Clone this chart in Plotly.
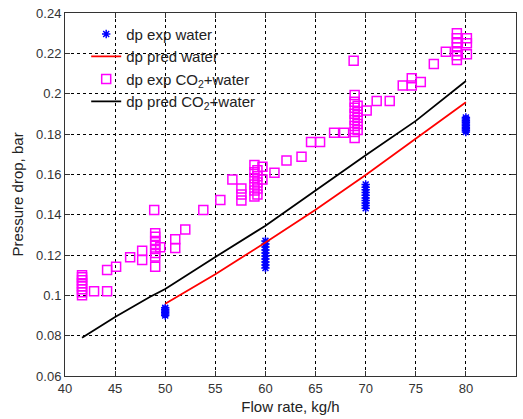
import plotly.graph_objects as go

# dp exp water (bar) at flow rates (kg/h)
water_exp_x = [50]*6 + [60]*10 + [70]*10 + [80]*10
water_exp_y = [0.0900, 0.0908, 0.0915, 0.0922, 0.0930, 0.0938,
               0.1135, 0.1150, 0.1165, 0.1180, 0.1195, 0.1210, 0.1225, 0.1240, 0.1255, 0.1270,
               0.1432, 0.1445, 0.1458, 0.1470, 0.1483, 0.1496, 0.1510, 0.1523, 0.1536, 0.1550,
               0.1810, 0.1818, 0.1826, 0.1834, 0.1842, 0.1850, 0.1858, 0.1866, 0.1874, 0.1882]

# dp pred water
water_pred_x = [50, 55, 60, 65, 70, 75, 80]
water_pred_y = [0.0958, 0.1105, 0.1262, 0.1425, 0.1597, 0.1775, 0.1957]

# dp exp CO2+water
co2_exp_x = ([41.7]*8 + [42.9, 44.2, 44.2, 45.1, 46.5, 47.7, 47.7, 48.9] + [49.0]*8 +
             [49.5, 51.0, 51.0, 52.0, 53.8, 55.5, 56.7, 57.6, 57.6, 57.6] + [58.9]*6 + [59.2]*5 +
             [59.7, 59.7, 60.9, 62.1, 63.6, 64.55, 65.45, 66.85, 67.85, 68.8] + [68.9]*8 + [69.2]*5 +
             [70.1, 71.1, 72.4, 73.7, 74.6, 74.6, 75.5, 76.8, 78.0] + [79.1]*7 + [80.1]*3)
co2_exp_y = ([0.1000, 0.1015, 0.1030, 0.1045, 0.1060, 0.1075, 0.1090, 0.1100] +
             [0.1020, 0.1020, 0.1126, 0.1142, 0.1189, 0.1221, 0.1175, 0.1423] +
             [0.1192, 0.1210, 0.1230, 0.1250, 0.1270, 0.1290, 0.1308, 0.1142] +
             [0.1238, 0.1278, 0.1235, 0.1327, 0.1423, 0.1473, 0.1575, 0.1530, 0.1500, 0.1470] +
             [0.1490, 0.1520, 0.1550, 0.1580, 0.1610, 0.1646] +
             [0.1500, 0.1530, 0.1560, 0.1590, 0.1620] +
             [0.1638, 0.1575, 0.1608, 0.1668, 0.1687, 0.1760, 0.1760, 0.1806, 0.1806, 0.2163] +
             [0.1780, 0.1810, 0.1840, 0.1870, 0.1900, 0.1930, 0.1960, 0.1993] +
             [0.1820, 0.1850, 0.1880, 0.1910, 0.1940] +
             [0.1916, 0.1964, 0.1964, 0.2040, 0.2076, 0.2040, 0.2058, 0.2147, 0.2208] +
             [0.2167, 0.2190, 0.2210, 0.2230, 0.2250, 0.2275, 0.2300] +
             [0.2275, 0.2250, 0.2195])

# dp pred CO2+water
co2_pred_x = [41.7, 45, 48.5, 50, 55, 60, 65, 70, 75, 80]
co2_pred_y = [0.0790, 0.0893, 0.0993, 0.1031, 0.1190, 0.1345, 0.1520, 0.1695, 0.1865, 0.2063]

x_ticks = [40, 45, 50, 55, 60, 65, 70, 75, 80, 85]
y_ticks = [0.06, 0.08, 0.10, 0.12, 0.14, 0.16, 0.18, 0.20, 0.22, 0.24]
y_ticktext = ["0.06", "0.08", "0.1", "0.12", "0.14", "0.16", "0.18", "0.2", "0.22", "0.24"]

FONT = "Arial, Liberation Sans, sans-serif"

fig = go.Figure()
fig.add_trace(go.Scatter(x=water_exp_x, y=water_exp_y, mode="markers",
                         name="dp exp water<sub>&nbsp;</sub>",
                         marker=dict(symbol="asterisk-open", size=7, color="#0000ff",
                                     line=dict(color="#0000ff", width=1.5))))
fig.add_trace(go.Scatter(x=water_pred_x, y=water_pred_y, mode="lines",
                         name="dp pred water<sub>&nbsp;</sub>",
                         line=dict(color="#ff0000", width=1.8)))
fig.add_trace(go.Scatter(x=co2_exp_x, y=co2_exp_y, mode="markers", name="dp exp CO<sub>2</sub>+water",
                         marker=dict(symbol="square-open", size=9, color="#ff00ff",
                                     line=dict(color="#ff00ff", width=1.5))))
fig.add_trace(go.Scatter(x=co2_pred_x, y=co2_pred_y, mode="lines", name="dp pred CO<sub>2</sub>+water",
                         line=dict(color="#000000", width=1.8)))

axis_common = dict(showline=True, linecolor="#333333", linewidth=1, mirror="ticks",
                   ticks="inside", ticklen=5, tickcolor="#333333",
                   showgrid=True, gridcolor="#000000", gridwidth=1, griddash="3px,3px",
                   zeroline=False, tickfont=dict(family=FONT, size=13, color="#333333"))

fig.update_xaxes(range=[40, 85], tickvals=x_ticks, ticktext=[str(v) for v in x_ticks],
                 title=dict(text="Flow rate, kg/h", font=dict(family=FONT, size=15, color="#222222"), standoff=6),
                 **axis_common)
fig.update_yaxes(range=[0.06, 0.24], tickvals=y_ticks, ticktext=y_ticktext,
                 title=dict(text="Pressure drop, bar", font=dict(family=FONT, size=15, color="#222222"), standoff=8),
                 **axis_common)

fig.update_layout(
    width=523, height=419, autosize=False,
    margin=dict(l=65, r=7, t=13, b=43),
    paper_bgcolor="white", plot_bgcolor="white",
    font=dict(family=FONT, color="#222222"),
    legend=dict(x=0.047, y=0.987, xanchor="left", yanchor="top", bgcolor="rgba(0,0,0,0)",
                borderwidth=0, font=dict(family=FONT, size=15, color="#222222"),
                tracegroupgap=0),
    showlegend=True,
)

fig.write_html("out.html")
